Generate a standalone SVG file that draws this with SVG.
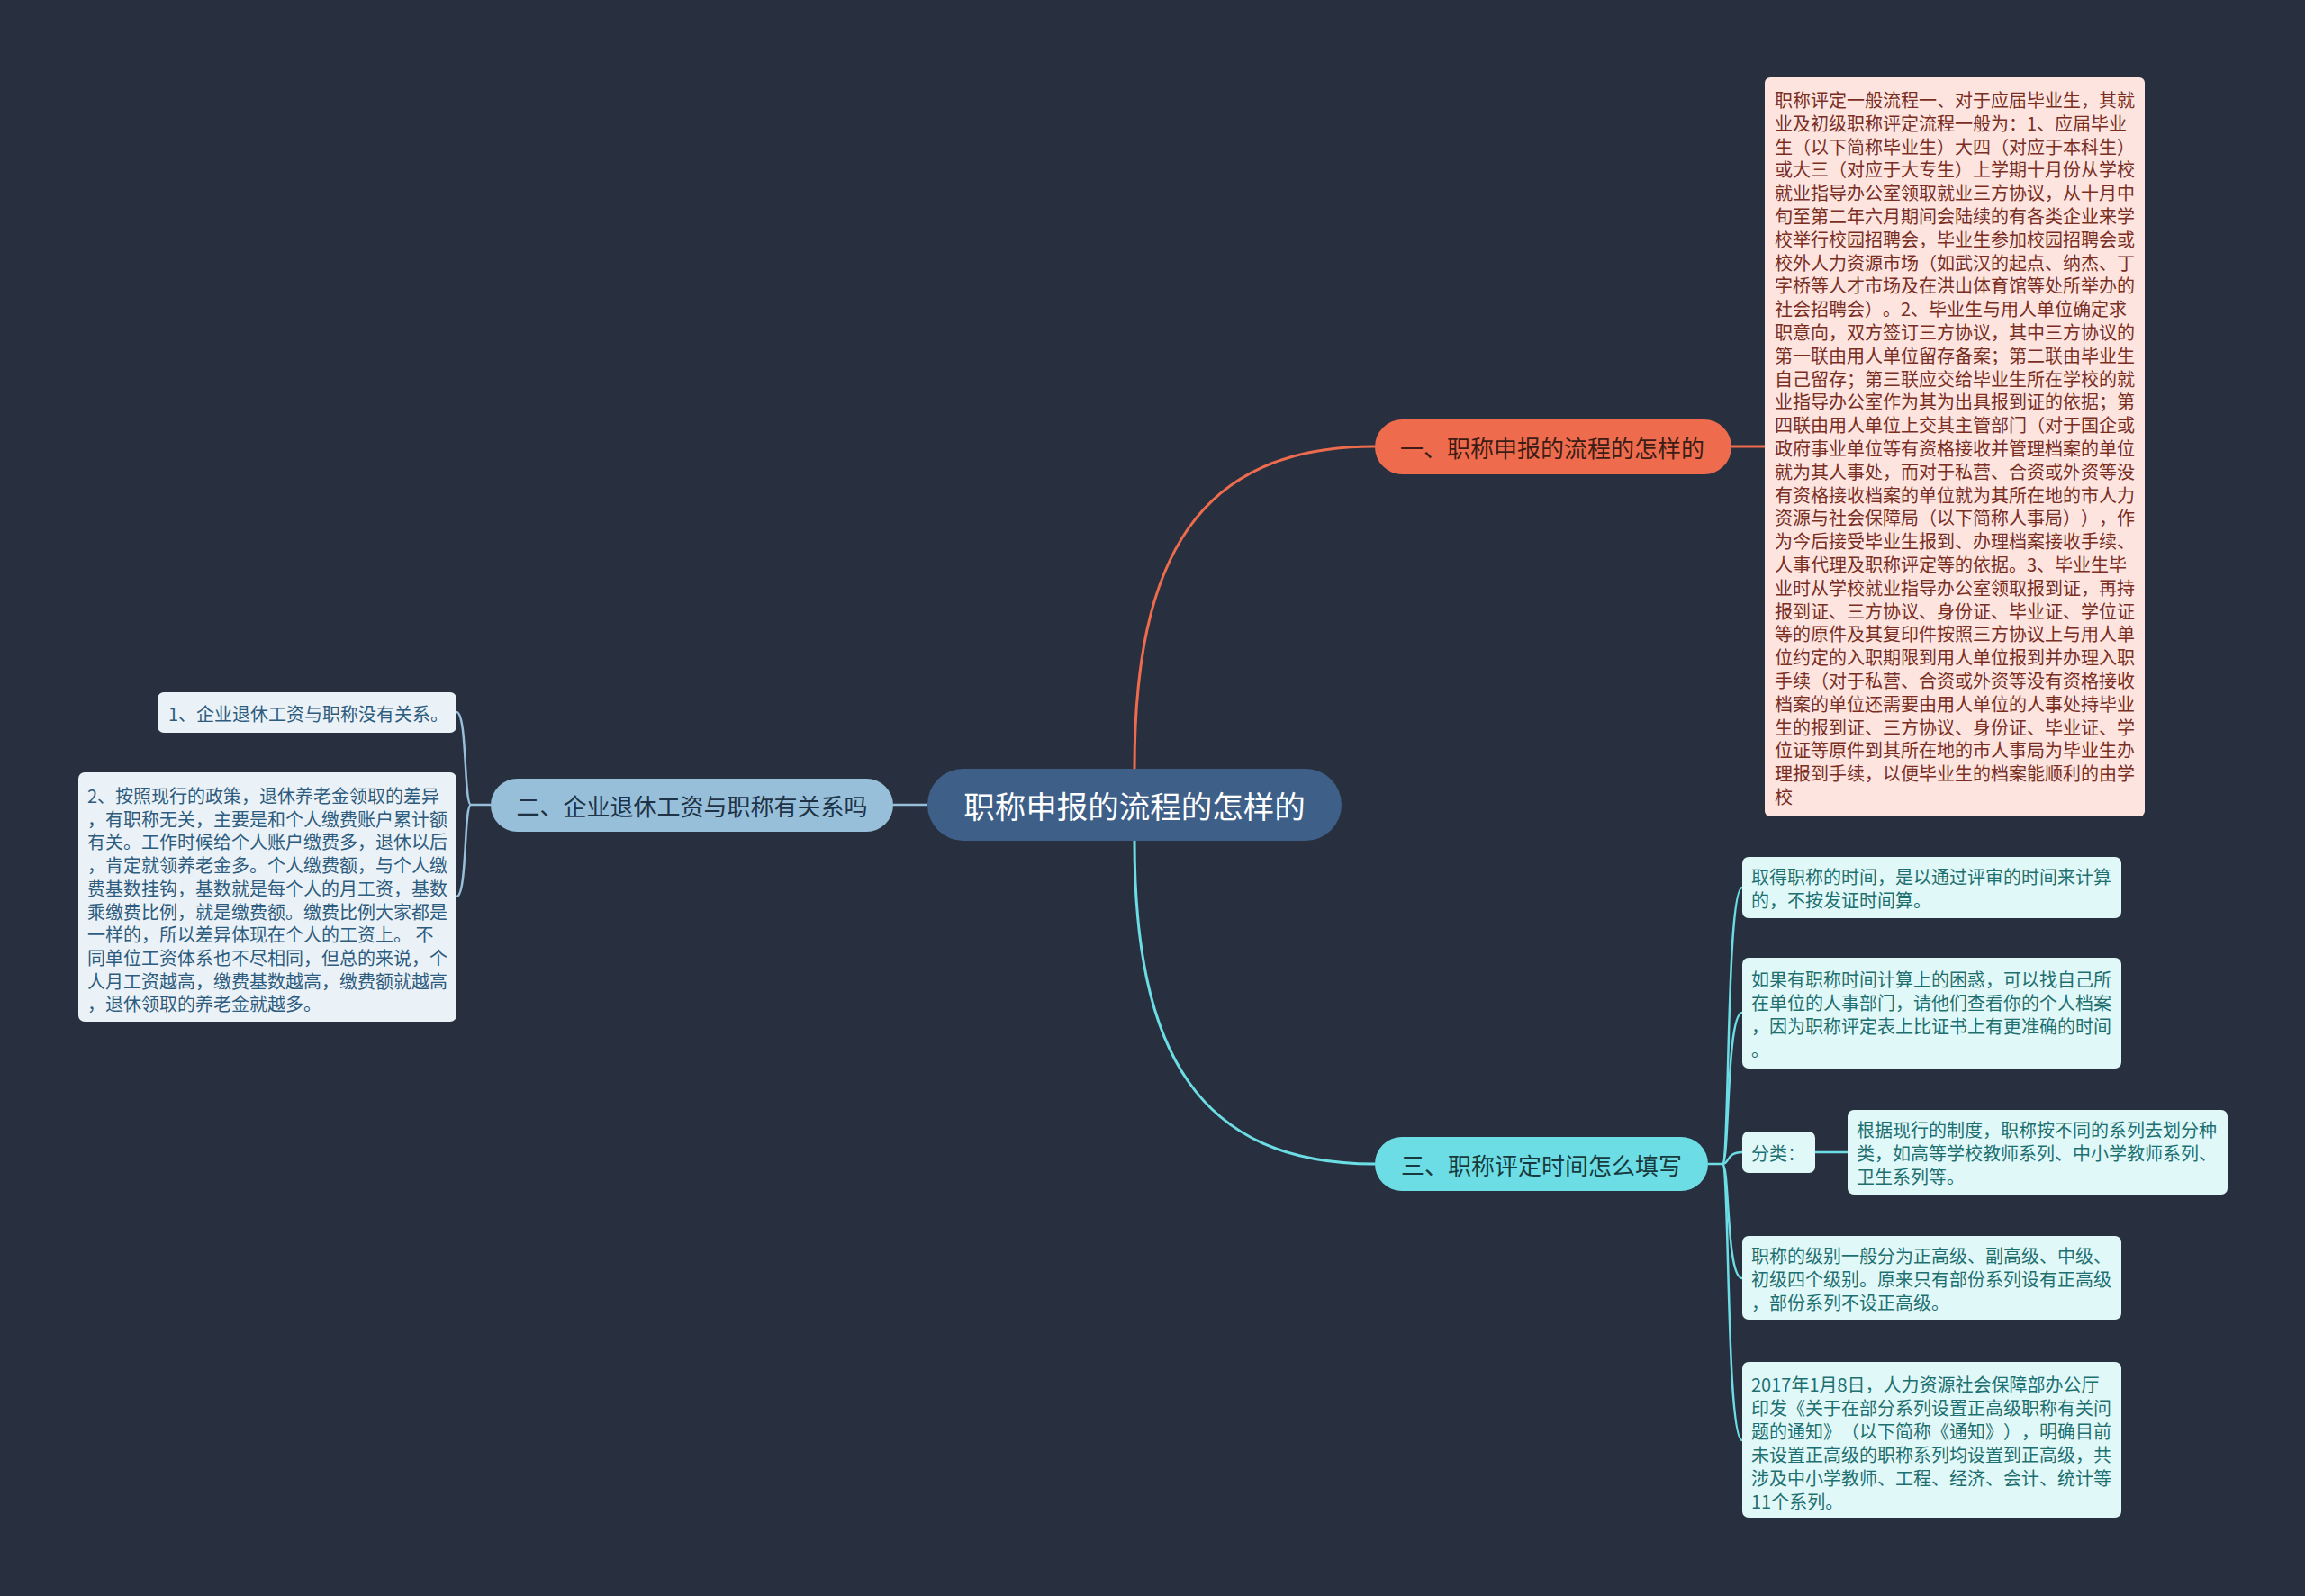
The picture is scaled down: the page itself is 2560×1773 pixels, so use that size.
<svg xmlns="http://www.w3.org/2000/svg" width="2560" height="1773" viewBox="0 0 2560 1773">
<style>
.bg{fill:#28303f}
.c-or{fill:none;stroke:#ee6c4d;stroke-width:3}
.c-bl{fill:none;stroke:#97bfda;stroke-width:2.5}
.c-cy{fill:none;stroke:#6cdde4;stroke-width:2.5}
.c-cy3{fill:none;stroke:#6cdde4;stroke-width:3}
text{font-family:"Noto Sans CJK SC","Noto Sans",sans-serif;dominant-baseline:central;text-spacing-trim:space-all}
.t-root{font-size:34.5px;fill:#ffffff;text-anchor:middle}
.t-br{font-size:26px;text-anchor:middle}
.t-s{font-size:20px}
.or-box{fill:#fde4df}
.or-txt{fill:#7a2e1f}
.bl-box{fill:#eaf2f8}
.bl-txt{fill:#2e5c7e}
.cy-box{fill:#e1f8f9}
.cy-txt{fill:#1e7070}
</style>
<rect class="bg" x="0" y="0" width="2560" height="1773"/>
<g id="connectors">
<path class="c-or" d="M1260,854 C1260,620 1330,496 1527,496"/>
<path class="c-or" d="M1923,496 L1960,496"/>
<path class="c-cy3" d="M1260,934 C1260,1168 1330,1293 1527,1293"/>
<path class="c-bl" d="M992,894 L1030,894"/>
<path class="c-bl" d="M545,894 L523,894"/>
<path class="c-bl" d="M523,894 C515,894 519,791 507,791"/>
<path class="c-bl" d="M523,894 C515,894 519,996 507,996"/>
<path class="c-cy" d="M1897,1293 L1913,1293"/>
<path class="c-cy" d="M1913,1293 C1921,1293 1917,986 1935,986"/>
<path class="c-cy" d="M1913,1293 C1921,1293 1917,1125 1935,1125"/>
<path class="c-cy" d="M1913,1293 C1921,1293 1917,1280 1935,1280"/>
<path class="c-cy" d="M1913,1293 C1921,1293 1917,1420 1935,1420"/>
<path class="c-cy" d="M1913,1293 C1921,1293 1917,1600 1935,1600"/>
<path class="c-cy" d="M2016,1280 L2052,1280"/>
</g>
<g id="root">
<rect x="1030" y="854" width="460" height="80" rx="40" fill="#3e5f88"/>
<text class="t-root" x="1260" y="894">职称申报的流程的怎样的</text>
</g>
<g id="branch1">
<rect x="1527" y="466" width="396" height="61" rx="30.5" fill="#ee6c4d"/>
<text class="t-br" x="1724" y="496.5" fill="#3d1c15">一、职称申报的流程的怎样的</text>
</g>
<g id="branch2">
<rect x="545" y="865" width="447" height="59" rx="29.5" fill="#97bfda"/>
<text class="t-br" x="768.5" y="894.5" fill="#1e3346">二、企业退休工资与职称有关系吗</text>
</g>
<g id="branch3">
<rect x="1527" y="1263" width="370" height="60" rx="30" fill="#6cdde4"/>
<text class="t-br" x="1712" y="1293" fill="#173a3e">三、职称评定时间怎么填写</text>
</g>
<g id="leaf1-1">
<rect class="or-box" x="1960" y="86" width="422" height="821" rx="6"/>
<text class="t-s or-txt">
<tspan x="1971" y="110">职称评定一般流程一、对于应届毕业生，其就</tspan>
<tspan x="1971" y="135.8">业及初级职称评定流程一般为：1、应届毕业</tspan>
<tspan x="1971" y="161.6">生（以下简称毕业生）大四（对应于本科生）</tspan>
<tspan x="1971" y="187.4">或大三（对应于大专生）上学期十月份从学校</tspan>
<tspan x="1971" y="213.2">就业指导办公室领取就业三方协议，从十月中</tspan>
<tspan x="1971" y="239">旬至第二年六月期间会陆续的有各类企业来学</tspan>
<tspan x="1971" y="264.8">校举行校园招聘会，毕业生参加校园招聘会或</tspan>
<tspan x="1971" y="290.6">校外人力资源市场（如武汉的起点、纳杰、丁</tspan>
<tspan x="1971" y="316.4">字桥等人才市场及在洪山体育馆等处所举办的</tspan>
<tspan x="1971" y="342.2">社会招聘会）。2、毕业生与用人单位确定求</tspan>
<tspan x="1971" y="368">职意向，双方签订三方协议，其中三方协议的</tspan>
<tspan x="1971" y="393.8">第一联由用人单位留存备案；第二联由毕业生</tspan>
<tspan x="1971" y="419.6">自己留存；第三联应交给毕业生所在学校的就</tspan>
<tspan x="1971" y="445.4">业指导办公室作为其为出具报到证的依据；第</tspan>
<tspan x="1971" y="471.2">四联由用人单位上交其主管部门（对于国企或</tspan>
<tspan x="1971" y="497">政府事业单位等有资格接收并管理档案的单位</tspan>
<tspan x="1971" y="522.8">就为其人事处，而对于私营、合资或外资等没</tspan>
<tspan x="1971" y="548.6">有资格接收档案的单位就为其所在地的市人力</tspan>
<tspan x="1971" y="574.4">资源与社会保障局（以下简称人事局）），作</tspan>
<tspan x="1971" y="600.2">为今后接受毕业生报到、办理档案接收手续、</tspan>
<tspan x="1971" y="626">人事代理及职称评定等的依据。3、毕业生毕</tspan>
<tspan x="1971" y="651.8">业时从学校就业指导办公室领取报到证，再持</tspan>
<tspan x="1971" y="677.6">报到证、三方协议、身份证、毕业证、学位证</tspan>
<tspan x="1971" y="703.4">等的原件及其复印件按照三方协议上与用人单</tspan>
<tspan x="1971" y="729.2">位约定的入职期限到用人单位报到并办理入职</tspan>
<tspan x="1971" y="755">手续（对于私营、合资或外资等没有资格接收</tspan>
<tspan x="1971" y="780.8">档案的单位还需要由用人单位的人事处持毕业</tspan>
<tspan x="1971" y="806.6">生的报到证、三方协议、身份证、毕业证、学</tspan>
<tspan x="1971" y="832.4">位证等原件到其所在地的市人事局为毕业生办</tspan>
<tspan x="1971" y="858.2">理报到手续，以便毕业生的档案能顺利的由学</tspan>
<tspan x="1971" y="884">校</tspan>
</text>
</g>
<g id="leaf2-1">
<rect class="bl-box" x="175" y="769" width="332" height="45" rx="7"/>
<text class="t-s bl-txt" x="187" y="792">1、企业退休工资与职称没有关系。</text>
</g>
<g id="leaf2-2">
<rect class="bl-box" x="87" y="858" width="420" height="277" rx="7"/>
<text class="t-s bl-txt">
<tspan x="97" y="883">2、按照现行的政策，退休养老金领取的差异</tspan>
<tspan x="97" y="908.7">，有职称无关，主要是和个人缴费账户累计额</tspan>
<tspan x="97" y="934.4">有关。工作时候给个人账户缴费多，退休以后</tspan>
<tspan x="97" y="960.1">，肯定就领养老金多。个人缴费额，与个人缴</tspan>
<tspan x="97" y="985.8">费基数挂钩，基数就是每个人的月工资，基数</tspan>
<tspan x="97" y="1011.5">乘缴费比例，就是缴费额。缴费比例大家都是</tspan>
<tspan x="97" y="1037.2">一样的，所以差异体现在个人的工资上。 不</tspan>
<tspan x="97" y="1062.9">同单位工资体系也不尽相同，但总的来说，个</tspan>
<tspan x="97" y="1088.6">人月工资越高，缴费基数越高，缴费额就越高</tspan>
<tspan x="97" y="1114.3">，退休领取的养老金就越多。</tspan>
</text>
</g>
<g id="leaf3-1">
<rect class="cy-box" x="1935" y="952" width="421" height="68" rx="7"/>
<text class="t-s cy-txt">
<tspan x="1945" y="973">取得职称的时间，是以通过评审的时间来计算</tspan>
<tspan x="1945" y="999">的，不按发证时间算。</tspan>
</text>
</g>
<g id="leaf3-2">
<rect class="cy-box" x="1935" y="1064" width="421" height="123" rx="7"/>
<text class="t-s cy-txt">
<tspan x="1945" y="1087">如果有职称时间计算上的困惑，可以找自己所</tspan>
<tspan x="1945" y="1113">在单位的人事部门，请他们查看你的个人档案</tspan>
<tspan x="1945" y="1139">，因为职称评定表上比证书上有更准确的时间</tspan>
<tspan x="1945" y="1165">。</tspan>
</text>
</g>
<g id="leaf3-3">
<rect class="cy-box" x="1935" y="1257" width="81" height="46" rx="7"/>
<text class="t-s cy-txt" x="1945" y="1280">分类：</text>
</g>
<g id="leaf3-3-1">
<rect class="cy-box" x="2052" y="1233" width="422" height="94" rx="7"/>
<text class="t-s cy-txt">
<tspan x="2062" y="1254">根据现行的制度，职称按不同的系列去划分种</tspan>
<tspan x="2062" y="1280">类，如高等学校教师系列、中小学教师系列、</tspan>
<tspan x="2062" y="1306">卫生系列等。</tspan>
</text>
</g>
<g id="leaf3-4">
<rect class="cy-box" x="1935" y="1373" width="421" height="93" rx="7"/>
<text class="t-s cy-txt">
<tspan x="1945" y="1394">职称的级别一般分为正高级、副高级、中级、</tspan>
<tspan x="1945" y="1420">初级四个级别。原来只有部份系列设有正高级</tspan>
<tspan x="1945" y="1446">，部份系列不设正高级。</tspan>
</text>
</g>
<g id="leaf3-5">
<rect class="cy-box" x="1935" y="1513" width="421" height="173" rx="7"/>
<text class="t-s cy-txt">
<tspan x="1945" y="1537">2017年1月8日，人力资源社会保障部办公厅</tspan>
<tspan x="1945" y="1563">印发《关于在部分系列设置正高级职称有关问</tspan>
<tspan x="1945" y="1589">题的通知》（以下简称《通知》），明确目前</tspan>
<tspan x="1945" y="1615">未设置正高级的职称系列均设置到正高级，共</tspan>
<tspan x="1945" y="1641">涉及中小学教师、工程、经济、会计、统计等</tspan>
<tspan x="1945" y="1667">11个系列。</tspan>
</text>
</g>
</svg>
